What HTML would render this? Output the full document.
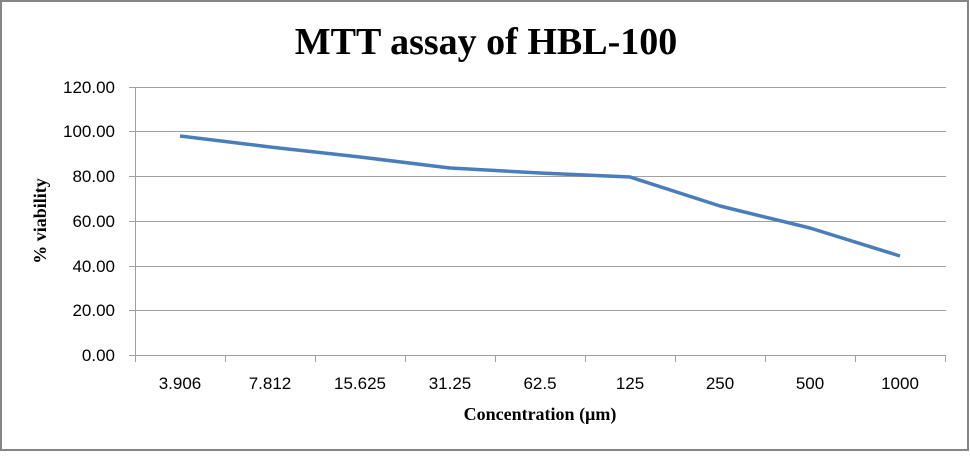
<!DOCTYPE html>
<html><head><style>body{margin:0;background:#fff}</style></head><body>
<svg width="970" height="452" xmlns="http://www.w3.org/2000/svg" font-family="Liberation Sans, sans-serif">
<rect x="1" y="1" width="967" height="449" fill="#fff" stroke="#868686" stroke-width="2"/>
<text x="486" y="54" text-anchor="middle" font-family="Liberation Serif, serif" font-weight="bold" font-size="38">MTT assay of HBL-100</text>
<g stroke="#a0a0a0" stroke-width="1">
<line x1="135" y1="87.5" x2="946" y2="87.5"/>
<line x1="135" y1="131.5" x2="946" y2="131.5"/>
<line x1="135" y1="176.5" x2="946" y2="176.5"/>
<line x1="135" y1="221.5" x2="946" y2="221.5"/>
<line x1="135" y1="266.5" x2="946" y2="266.5"/>
<line x1="135" y1="310.5" x2="946" y2="310.5"/>
<line x1="135" y1="355.5" x2="946" y2="355.5"/>
<line x1="135.5" y1="87" x2="135.5" y2="355"/>
<line x1="129" y1="87.5" x2="135" y2="87.5"/><line x1="129" y1="131.5" x2="135" y2="131.5"/><line x1="129" y1="176.5" x2="135" y2="176.5"/><line x1="129" y1="221.5" x2="135" y2="221.5"/><line x1="129" y1="266.5" x2="135" y2="266.5"/><line x1="129" y1="310.5" x2="135" y2="310.5"/><line x1="129" y1="355.5" x2="135" y2="355.5"/>
<line x1="135.5" y1="355" x2="135.5" y2="362"/><line x1="225.5" y1="355" x2="225.5" y2="362"/><line x1="315.5" y1="355" x2="315.5" y2="362"/><line x1="405.5" y1="355" x2="405.5" y2="362"/><line x1="495.5" y1="355" x2="495.5" y2="362"/><line x1="585.5" y1="355" x2="585.5" y2="362"/><line x1="675.5" y1="355" x2="675.5" y2="362"/><line x1="765.5" y1="355" x2="765.5" y2="362"/><line x1="855.5" y1="355" x2="855.5" y2="362"/><line x1="945.5" y1="355" x2="945.5" y2="362"/>
</g>
<g font-size="17" text-anchor="end" fill="#000">
<text x="115" y="93">120.00</text><text x="115" y="137">100.00</text><text x="115" y="182">80.00</text><text x="115" y="227">60.00</text><text x="115" y="272">40.00</text><text x="115" y="316">20.00</text><text x="115" y="361">0.00</text>
</g>
<g font-size="17" text-anchor="middle" fill="#000">
<text x="180" y="389">3.906</text><text x="270" y="389">7.812</text><text x="360" y="389">15.625</text><text x="450" y="389">31.25</text><text x="540" y="389">62.5</text><text x="630" y="389">125</text><text x="720" y="389">250</text><text x="810" y="389">500</text><text x="900" y="389">1000</text>
</g>
<text x="540" y="420" text-anchor="middle" font-family="Liberation Serif, serif" font-weight="bold" font-size="18">Concentration (µm)</text>
<text transform="translate(46,221) rotate(-90)" text-anchor="middle" font-family="Liberation Serif, serif" font-weight="bold" font-size="18">% viability</text>
<polyline fill="none" stroke="#4a7ebb" stroke-width="3.5" stroke-linejoin="round" points="180,136 270,147 360,157 450,168 540,173 630,177 720,206 810,228 900,256"/>
</svg>
</body></html>
